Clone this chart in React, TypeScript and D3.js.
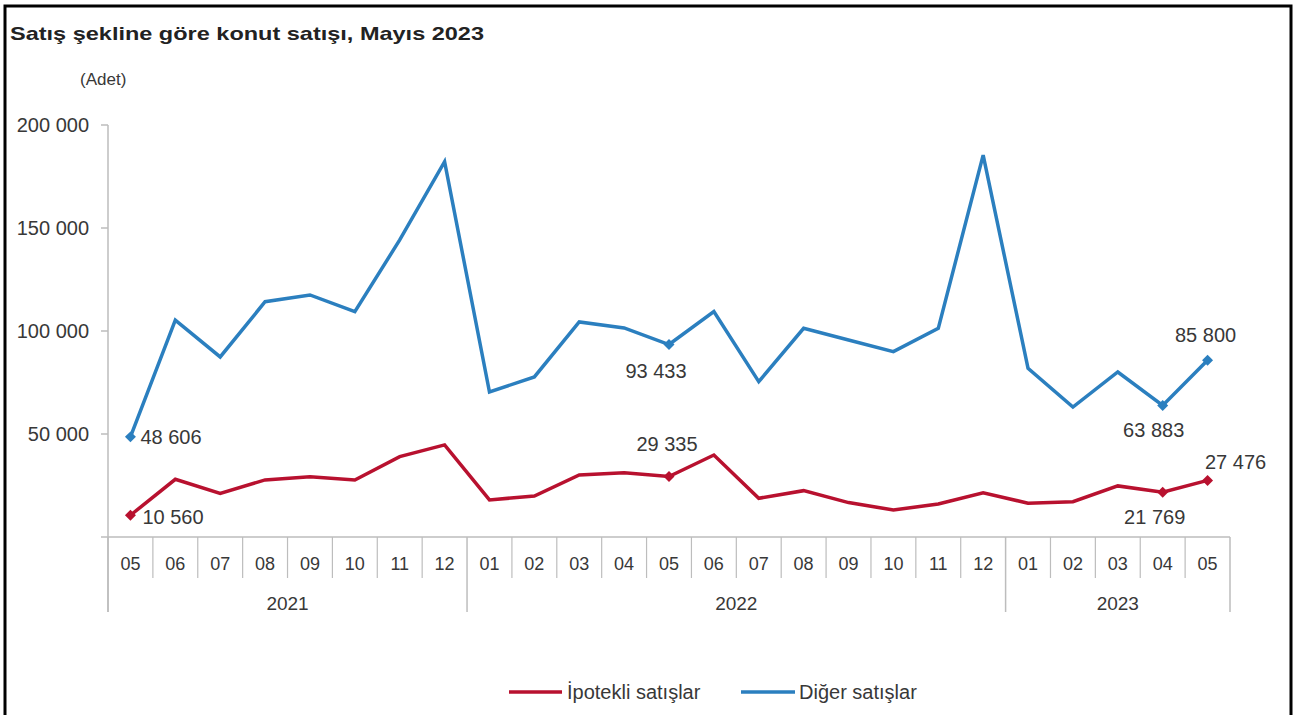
import React from "react";
import * as d3 from "d3";

const title = "Satış şekline göre konut satışı, Mayıs 2023";
const unitLabel = "(Adet)";
const months = ["05","06","07","08","09","10","11","12","01","02","03","04","05","06","07","08","09","10","11","12","01","02","03","04","05"];
const yearLabels = ["2021", "2022", "2023"];
const yearCounts = [8, 12, 5];
const ipotekli = [10560, 28000, 21200, 27700, 29300, 27700, 39000, 44700, 18000, 19900, 30100, 31200, 29335, 39800, 18800, 22500, 16700, 13100, 16000, 21500, 16400, 17100, 24800, 21769, 27476];
const diger = [48606, 105300, 87400, 114200, 117500, 109400, 144200, 182200, 70400, 77700, 104400, 101500, 93433, 109400, 75400, 101300, 95600, 90000, 101300, 185400, 81900, 63100, 80100, 63883, 85800];
const yTicks = [50000, 100000, 150000, 200000];
const labeledIdx = [0, 12, 23, 24];
const seriesNames = ["İpotekli satışlar", "Diğer satışlar"];

const RED = "#b8112f";
const BLUE = "#2b7fbf";
const TXT = "#383838";
const AX = "#bdbdbd";
const FONT = "'Liberation Sans', Arial, sans-serif";

const fmt = (v: number) => d3.format(",")(v).replace(/,/g, " ");

export default function App() {
  const W = 1295, H = 715;
  const x = d3.scaleBand<number>().domain(d3.range(months.length)).range([108, 1230]).padding(0);
  const y = d3.scaleLinear().domain([0, 200000]).range([537, 125]);
  const cx = (i: number) => (x(i) as number) + x.bandwidth() / 2;
  const line = d3.line<number>().x((_, i) => cx(i)).y((d) => y(d));
  const diamond = d3.symbol().type(d3.symbolSquare).size(60)();

  const yearStarts: number[] = [];
  let acc = 0;
  yearCounts.forEach((c) => { yearStarts.push(acc); acc += c; });

  // label placement for the annotated points: [dx, dy, anchor]
  const bluePlace: Record<number, [number, number, string]> = {
    0: [10, 7, "start"], 12: [-13, 33, "middle"], 23: [-9, 32, "middle"], 24: [-2, -18, "middle"],
  };
  const redPlace: Record<number, [number, number, string]> = {
    0: [12, 9, "start"], 12: [-2, -26, "middle"], 23: [-8, 32, "middle"], 24: [28, -11, "middle"],
  };

  return (
    <svg width={W} height={H} style={{ position: "absolute", left: 0, top: 0, background: "#fff" }} fontFamily={FONT}>
      <rect x={0} y={0} width={W} height={H} fill="#fff" />
      <rect x={5} y={6} width={1286} height={720} fill="none" stroke="#000" strokeWidth={3} />
      <text x={10} y={40} fontSize={19} fontWeight="bold" fill="#222" textLength={474} lengthAdjust="spacingAndGlyphs">{title}</text>
      <text x={80} y={85} fontSize={17} fill={TXT}>{unitLabel}</text>

      {/* y axis */}
      <line x1={108} x2={108} y1={y(200000)} y2={612} stroke={AX} strokeWidth={1.5} />
      {yTicks.map((t) => (
        <g key={t}>
          <line x1={101} x2={108} y1={y(t)} y2={y(t)} stroke={AX} strokeWidth={1.5} />
          <text x={89} y={y(t)} dy="0.35em" textAnchor="end" fontSize={20} fill={TXT}>{fmt(t)}</text>
        </g>
      ))}

      {/* x axis */}
      <line x1={101} x2={1230} y1={y(0)} y2={y(0)} stroke={AX} strokeWidth={1.5} />
      {months.map((m, i) => (
        <g key={i}>
          {i > 0 && !yearStarts.includes(i) && (
            <line x1={x(i) as number} x2={x(i) as number} y1={y(0)} y2={578} stroke={AX} strokeWidth={1.2} />
          )}
          <text x={cx(i)} y={564} dy="0.35em" textAnchor="middle" fontSize={18} fill={TXT}>{m}</text>
        </g>
      ))}
      {yearStarts.map((s, k) => (
        <g key={k}>
          <line x1={x(s) as number} x2={x(s) as number} y1={y(0)} y2={612} stroke={AX} strokeWidth={1.5} />
          <text x={((x(s) as number) + (x(s + yearCounts[k] - 1) as number) + x.bandwidth()) / 2} y={603} dy="0.35em" textAnchor="middle" fontSize={19} fill={TXT}>{yearLabels[k]}</text>
        </g>
      ))}
      <line x1={1230} x2={1230} y1={y(0)} y2={612} stroke={AX} strokeWidth={1.5} />

      {/* lines */}
      <path d={line(diger) as string} fill="none" stroke={BLUE} strokeWidth={3.5} strokeLinejoin="miter" />
      <path d={line(ipotekli) as string} fill="none" stroke={RED} strokeWidth={3.5} strokeLinejoin="miter" />

      {labeledIdx.map((i) => (
        <g key={"b" + i}>
          <path d={diamond as string} transform={`translate(${cx(i)},${y(diger[i])}) rotate(45)`} fill={BLUE} />
          <text x={cx(i) + bluePlace[i][0]} y={y(diger[i]) + bluePlace[i][1]} textAnchor={bluePlace[i][2] as any} fontSize={20} fill={TXT}>{fmt(diger[i])}</text>
        </g>
      ))}
      {labeledIdx.map((i) => (
        <g key={"r" + i}>
          <path d={diamond as string} transform={`translate(${cx(i)},${y(ipotekli[i])}) rotate(45)`} fill={RED} />
          <text x={cx(i) + redPlace[i][0]} y={y(ipotekli[i]) + redPlace[i][1]} textAnchor={redPlace[i][2] as any} fontSize={20} fill={TXT}>{fmt(ipotekli[i])}</text>
        </g>
      ))}

      {/* legend */}
      <line x1={509} x2={562} y1={692} y2={692} stroke={RED} strokeWidth={3.5} />
      <text x={567} y={692} dy="0.35em" fontSize={20} fill={TXT}>{seriesNames[0]}</text>
      <line x1={741} x2={795} y1={692} y2={692} stroke={BLUE} strokeWidth={3.5} />
      <text x={799} y={692} dy="0.35em" fontSize={20} fill={TXT}>{seriesNames[1]}</text>
    </svg>
  );
}
